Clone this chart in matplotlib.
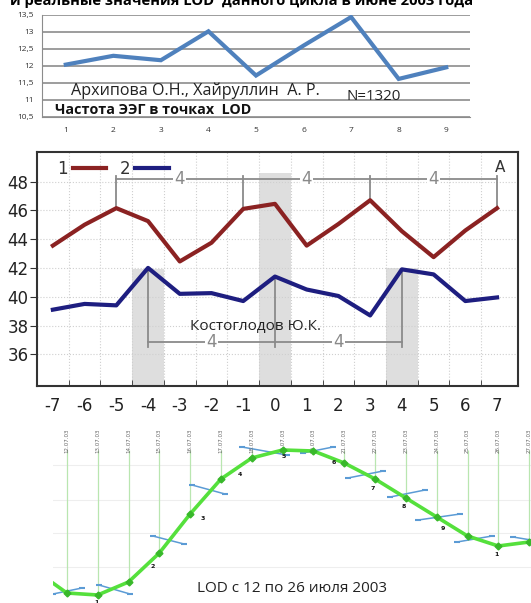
import matplotlib.pyplot as plt

plt.rcParams['font.family'] = ['Open Sans', 'DejaVu Sans']
plt.rcParams['axes.unicode_minus'] = False

# --- верхний график: частота ЭЭГ в точках LOD
eeg_x = [1, 2, 3, 4, 5, 6, 7, 8, 9]
eeg_f = [12.04, 12.30, 12.17, 13.02, 11.72, 12.60, 13.44, 11.62, 11.96]
eeg_yticks = [10.5, 11, 11.5, 12, 12.5, 13, 13.5]
eeg_ylabels = ['10,5', '11', '11,5', '12', '12,5', '13', '13,5']

# --- средний график (Костоглодов)
kx = list(range(-7, 8))
k1 = [43.55, 45.0, 46.15, 45.25, 42.45, 43.75, 46.1, 46.45, 43.55, 45.05, 46.7, 44.55, 42.75, 44.6, 46.15]
k2 = [39.1, 39.5, 39.4, 42.0, 40.2, 40.25, 39.7, 41.4, 40.5, 40.05, 38.7, 41.9, 41.55, 39.7, 39.95]
shade_x = [-4, 0, 4]
shade_top = [41.9, 48.6, 42.0]
top_br_x = [-5, -1, 3, 7]
bot_br_x = [-4, 0, 4]

# --- нижний график: LOD 12-26 июля 2003
lod_days = list(range(11, 28))
lod_vals = [0.32, 0.10, 0.08, 0.21, 0.50, 0.89, 1.24, 1.45, 1.53, 1.52, 1.40, 1.24, 1.05, 0.86, 0.67, 0.57, 0.61]
date_days = list(range(12, 28))
date_labels = ['%d.07.03' % d for d in date_days]
seg_x0 = [11.55, 13.04, 14.79, 16.06, 17.68, 19.66, 21.12, 22.49, 23.40, 24.66, 26.48]
seg_x1 = [12.49, 14.05, 15.80, 17.13, 19.14, 20.64, 22.26, 23.62, 24.76, 25.80, 27.06]
seg_y0 = [0.09, 0.18, 0.67, 1.18, 1.56, 1.50, 1.25, 1.06, 0.83, 0.61, 0.66]
seg_y1 = [0.15, 0.09, 0.59, 1.09, 1.48, 1.56, 1.32, 1.13, 0.89, 0.67, 0.63]
num_txt = ['1', '2', '3', '4', '5', '6', '7', '8', '9', '1']
num_x = [12.97, 14.79, 16.42, 17.62, 19.05, 20.67, 21.94, 22.94, 24.21, 25.93]
num_y = [0.01, 0.36, 0.85, 1.29, 1.46, 1.40, 1.15, 0.96, 0.75, 0.48]

fig = plt.figure(figsize=(5.31, 6.03), dpi=100)

# заголовок (обрезан сверху)
fig.text(0.019, 0.9925, 'и реальные значения LOD  данного цикла в июне 2003 года',
         fontsize=10.6, fontweight='bold', ha='left', va='baseline')

# 1) верхний
ax1 = fig.add_axes([42/531, 1-117/603, 428/531, 102/603])
ax1.plot(eeg_x, eeg_f, color='#4f81bd', lw=3, solid_joinstyle='miter')
ax1.set_xlim(0.5, 9.5)
ax1.set_ylim(10.5, 13.5)
ax1.set_yticks(eeg_yticks)
ax1.set_yticklabels(eeg_ylabels)
ax1.set_xticks(eeg_x)
ax1.yaxis.grid(True, color='#8c8c8c', lw=1.2)
ax1.set_axisbelow(True)
for s in ['top', 'right']:
    ax1.spines[s].set_visible(False)
ax1.spines['left'].set_color('#8c8c8c')
ax1.spines['bottom'].set_color('#8c8c8c')
ax1.tick_params(axis='both', labelsize=6, colors='#333333', length=0, pad=7)
ax1.tick_params(axis='y', pad=6)
ax1.text(1.1, 11.16, 'Архипова О.Н., Хайруллин  А. Р.', fontsize=11.6, color='#222222', va='baseline')
ax1.text(6.9, 11.0, 'N=1320', fontsize=10.8, color='#222222', va='baseline')
ax1.text(0.78, 10.58, 'Частота ЭЭГ в точках  LOD', fontsize=10.3, fontweight='bold',
         color='#111111', va='baseline')

# 2) средний
ax2 = fig.add_axes([37/531, 1-386/603, 481/531, 234/603])
for sx, st in zip(shade_x, shade_top):
    ax2.fill_between([sx-0.5, sx+0.5], 30, st, color='#dedede', lw=0, zorder=0)
ax2.plot(kx, k1, color='#8b2222', lw=3, label='1', zorder=3)
ax2.plot(kx, k2, color='#1e1e80', lw=3, label='2', zorder=3)
# скобки "4"
br_c = '#8a8a8a'
for bx in top_br_x:
    ax2.plot([bx, bx], [k1[kx.index(bx)], 48.35], color=br_c, lw=1.3, zorder=2)
ax2.plot([top_br_x[0], top_br_x[-1]], [48.2, 48.2], color=br_c, lw=1.3, zorder=2)
for a, b in zip(top_br_x[:-1], top_br_x[1:]):
    ax2.text((a+b)/2, 48.2, '4', color=br_c, fontsize=12, ha='center', va='center',
             family=['DejaVu Sans'], bbox=dict(fc='white', ec='none', pad=1), zorder=2)
for bx in bot_br_x:
    ax2.plot([bx, bx], [k2[kx.index(bx)], 36.5], color=br_c, lw=1.3, zorder=2)
ax2.plot([bot_br_x[0], bot_br_x[-1]], [36.85, 36.85], color=br_c, lw=1.3, zorder=2)
for a, b in zip(bot_br_x[:-1], bot_br_x[1:]):
    ax2.text((a+b)/2, 36.85, '4', color=br_c, fontsize=12, ha='center', va='center',
             family=['DejaVu Sans'], bbox=dict(fc='white', ec='none', pad=1), zorder=2)
ax2.text(-0.6, 37.95, 'Костоглодов Ю.К.', fontsize=11, color='#222222', ha='center', va='center', zorder=4)
ax2.text(7.1, 48.95, 'А', fontsize=11, color='#333333', ha='center', va='center', family=['DejaVu Sans'])
ax2.set_xlim(-7.5, 7.66)
ax2.set_ylim(33.8, 50.05)
ax2.set_yticks([36, 38, 40, 42, 44, 46, 48])
ax2.set_xticks(kx)
ax2.set_xticks([x + 0.5 for x in kx[:-1]], minor=True)
ax2.grid(True, which='minor', axis='x', color='#cfcfcf', lw=0.8, ls=':')
ax2.grid(True, which='major', axis='y', color='#cfcfcf', lw=0.8, ls=':')
ax2.set_axisbelow(True)
for s in ax2.spines.values():
    s.set_color('#333333')
    s.set_linewidth(1.5)
ax2.tick_params(axis='x', which='major', length=0, labelsize=12, pad=8)
ax2.tick_params(axis='x', which='minor', direction='in', length=4, color='#333333')
ax2.tick_params(axis='y', direction='out', length=5, labelsize=12, color='#333333', pad=1)
for lab in ax2.get_xticklabels() + ax2.get_yticklabels():
    lab.set_family(['DejaVu Sans'])
    lab.set_color('#222222')
leg = ax2.legend(loc='upper left', ncol=2, frameon=False, markerfirst=False, fontsize=12,
                 handlelength=2.0, handletextpad=0.3, columnspacing=0.8,
                 borderaxespad=0.1, bbox_to_anchor=(0.025, 1.0))
for t in leg.get_texts():
    t.set_family(['DejaVu Sans'])
    t.set_color('#333333')

# 3) нижний
ax3 = fig.add_axes([53/531, 0, 478/531, 178/603])
for yy in [0.36, 0.70, 1.03, 1.38]:
    ax3.axhline(yy, color='#eeeeee', lw=0.8, zorder=0)
ax3.vlines(date_days, [lod_vals[lod_days.index(d)] for d in date_days], 1.53,
           color='#b9e6b0', lw=0.9, zorder=1)
for d, lab in zip(date_days, date_labels):
    ax3.text(d, 1.62, lab, rotation=90, fontsize=4, color='#666666', ha='center', va='center',
             family=['DejaVu Sans'])
for x0, x1, y0, y1 in zip(seg_x0, seg_x1, seg_y0, seg_y1):
    ax3.plot([x0, x1], [y0, y1], color='#5b9bd5', lw=1.1, marker='_', ms=4, mew=1.5, zorder=2)
ax3.plot(lod_days, lod_vals, color='#55e03c', lw=2.6, zorder=3)
ax3.plot(lod_days, lod_vals, ls='none', marker='D', ms=3.5, color='#38b82a', zorder=4)
for t, x, y in zip(num_txt, num_x, num_y):
    ax3.text(x, y, t, fontsize=4.5, fontweight='bold', color='#111111', ha='center', va='center',
             family=['DejaVu Sans'])
ax3.text(19.3, 0.15, 'LOD с 12 по 26 июля 2003', fontsize=11, color='#222222', ha='center', va='center')
ax3.set_xlim(11.55, 27.06)
ax3.set_ylim(0, 1.78)
ax3.axis('off')

fig.savefig('out.png', dpi=100)
